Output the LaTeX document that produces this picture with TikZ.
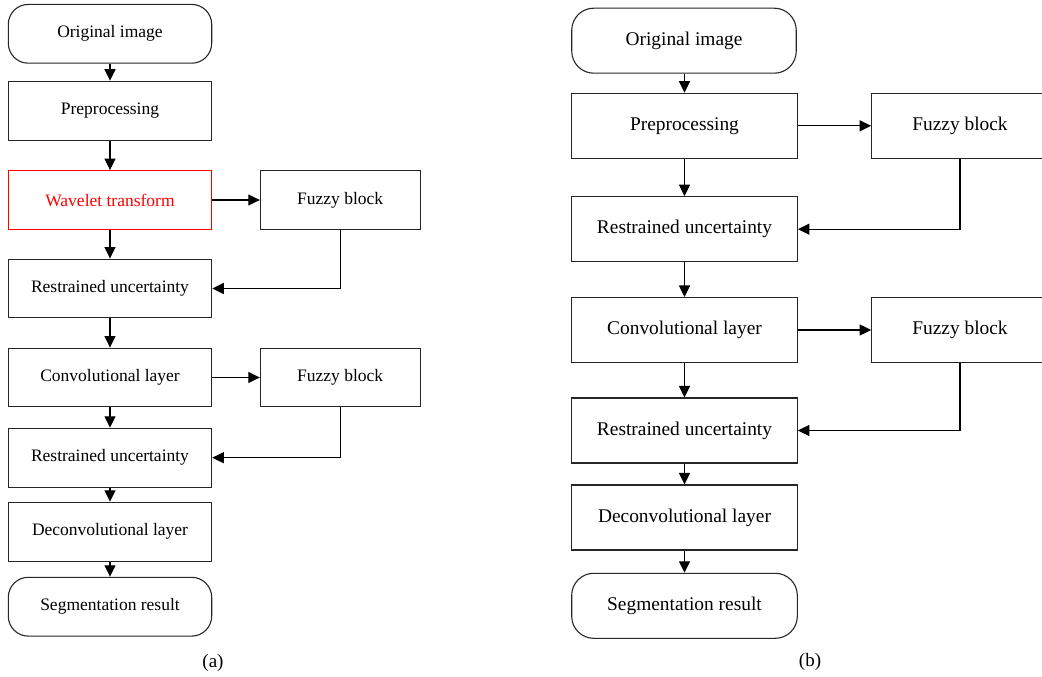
\documentclass[tikz,border=0pt]{standalone}
\usepackage{fontspec}
\setmainfont{Liberation Serif}
\usetikzlibrary{arrows.meta}
\begin{document}
\begin{tikzpicture}[x=1pt,y=-1pt,
  boxa/.style={draw=black!85, line width=1.1pt, minimum width=203.4pt, minimum height=58.8pt, inner sep=0pt, font=\fontsize{17.5}{20}\selectfont},
  rbox/.style={boxa, rounded corners=20pt},
  fuzza/.style={boxa, minimum width=159.7pt},
  boxb/.style={draw=black!85, line width=1.1pt, minimum width=225.6pt, minimum height=65pt, inner sep=0pt, font=\fontsize{19.4}{22}\selectfont},
  rboxb/.style={boxb, rounded corners=22pt},
  fuzzb/.style={boxb, minimum width=176.6pt},
  arr/.style={-{Triangle[length=11.5pt,width=11pt]}, line width=1.1pt},
  captext/.style={font=\fontsize{19}{22}\selectfont, inner sep=0pt}]
\useasboundingbox (0,0) rectangle (1042,677);
% ---- (a) ----
\node[rbox] (oA) at (110,33.8) {Original image};
\node[boxa] (pA) at (110,110.7) {Preprocessing};
\node[boxa, draw=red, text=red] (wA) at (110,200) {Wavelet transform};
\node[fuzza] (fA1) at (340.2,200) {Fuzzy block};
\node[boxa] (rA1) at (110,288.5) {Restrained uncertainty};
\node[boxa] (cA) at (110,377.5) {Convolutional layer};
\node[fuzza] (fA2) at (340.2,377.5) {Fuzzy block};
\node[boxa] (rA2) at (110,457.7) {Restrained uncertainty};
\node[boxa] (dA) at (110,531.7) {Deconvolutional layer};
\node[rbox] (sA) at (110,606.7) {Segmentation result};
\node[captext] (capA) at (213,663) {(a)};
\draw[arr] (oA) -- (pA);
\draw[arr] (pA) -- (wA);
\draw[arr] (wA) -- (fA1);
\draw[arr] (wA) -- (rA1);
\draw[arr] (fA1.south) |- (rA1.east);
\draw[arr] (rA1) -- (cA);
\draw[arr] (cA) -- (fA2);
\draw[arr] (cA) -- (rA2);
\draw[arr] (fA2.south) |- (rA2.east);
\draw[arr] (rA2) -- (dA);
\draw[arr] (dA) -- (sA);
% ---- (b) ----
\node[rboxb, minimum width=224.5pt] (oB) at (684,40.7) {Original image};
\node[boxb] (pB) at (684.5,125.8) {Preprocessing};
\node[fuzzb] (fB1) at (960,125.8) {Fuzzy block};
\node[boxb] (rB1) at (684.5,229.2) {Restrained uncertainty};
\node[boxb] (cB) at (684.5,330) {Convolutional layer};
\node[fuzzb] (fB2) at (960,330) {Fuzzy block};
\node[boxb] (rB2) at (684.5,430.5) {Restrained uncertainty};
\node[boxb] (dB) at (684.5,517.5) {Deconvolutional layer};
\node[rboxb] (sB) at (684.5,605.8) {Segmentation result};
\node[captext] (capB) at (810,662) {(b)};
\draw[arr] (oB.south -| pB) -- (pB);
\draw[arr] (pB) -- (fB1);
\draw[arr] (pB) -- (rB1);
\draw[arr] (fB1.south) |- (rB1.east);
\draw[arr] (rB1) -- (cB);
\draw[arr] (cB) -- (fB2);
\draw[arr] (cB) -- (rB2);
\draw[arr] (fB2.south) |- (rB2.east);
\draw[arr] (rB2) -- (dB);
\draw[arr] (dB) -- (sB);
\end{tikzpicture}
\end{document}
